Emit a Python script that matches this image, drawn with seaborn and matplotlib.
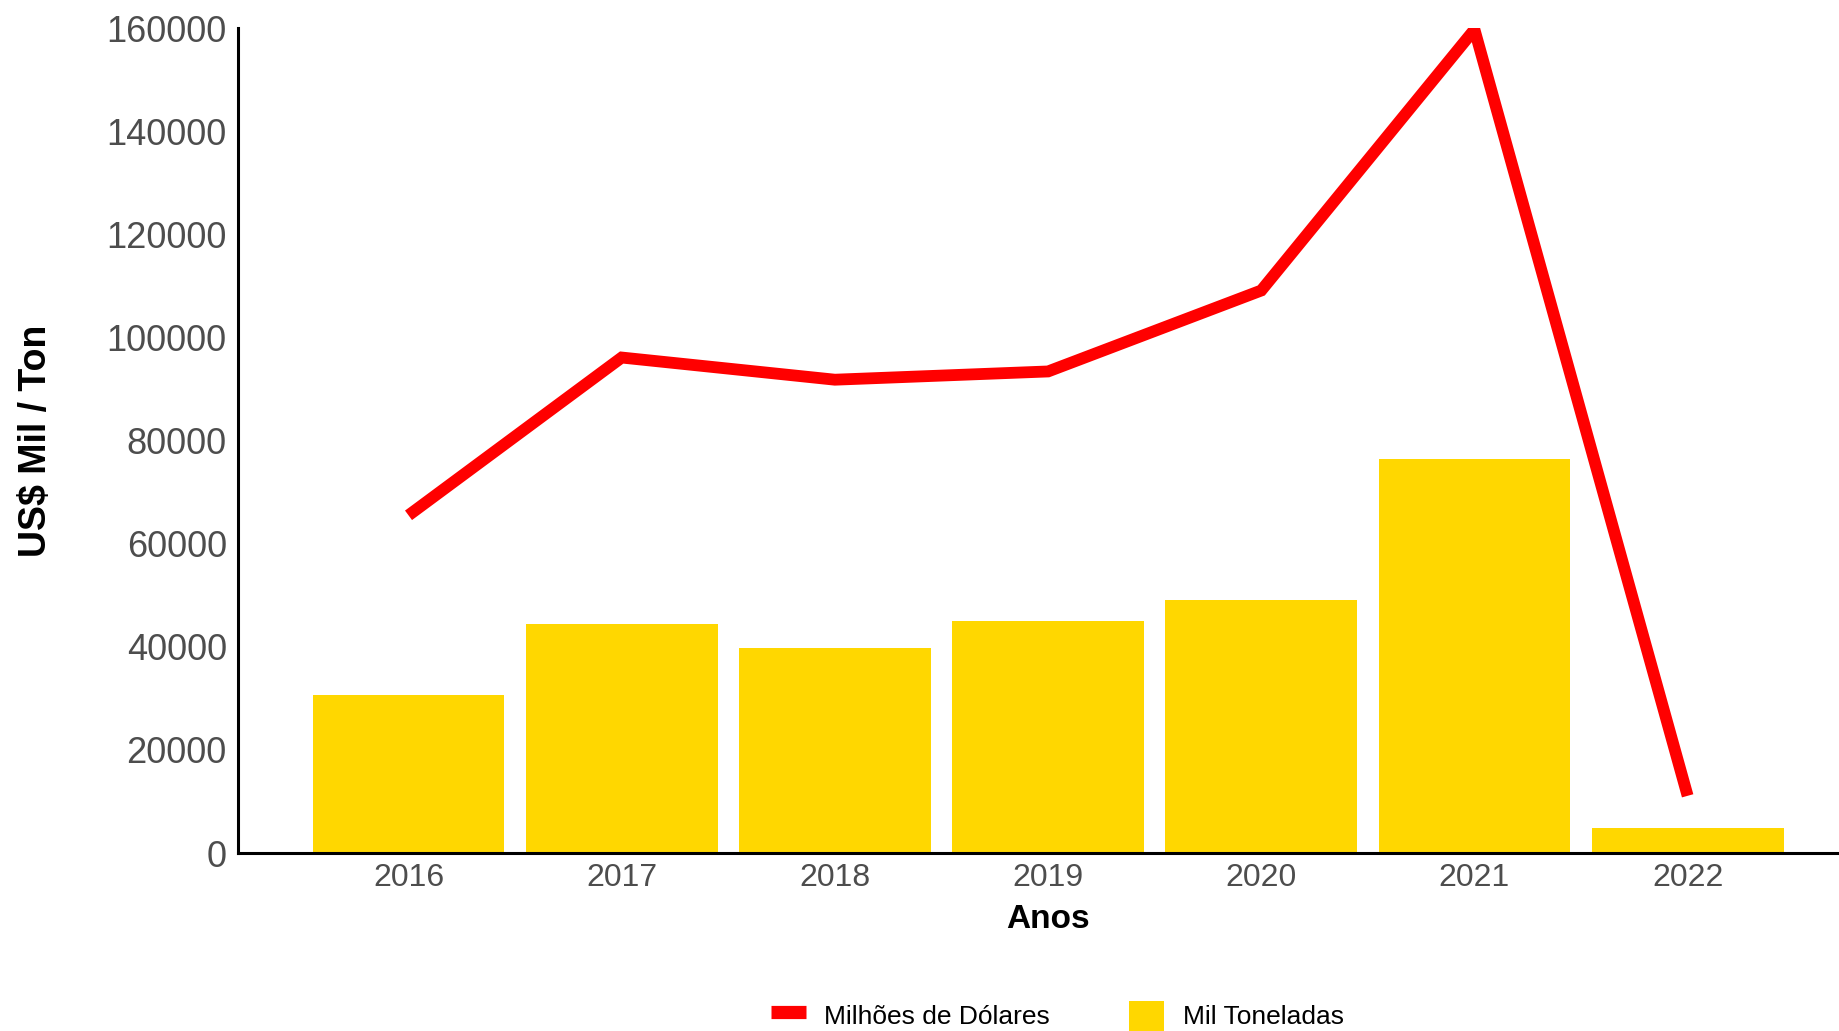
import numpy as np
import pandas as pd
import matplotlib
matplotlib.use("Agg")
import matplotlib.pyplot as plt
import seaborn as sns
from matplotlib.lines import Line2D
from matplotlib.patches import Patch

# Values
anos = ["2016", "2017", "2018", "2019", "2020", "2021", "2022"]
milhoes_dolares = [65500, 96100, 91800, 93400, 109100, 159700, 11100]
mil_toneladas = [30700, 44500, 39800, 45000, 49100, 76400, 4800]
y_ticks = [0, 20000, 40000, 60000, 80000, 100000, 120000, 140000, 160000]

df = pd.DataFrame({"ano": anos, "dolares": milhoes_dolares, "toneladas": mil_toneladas})

sns.set_style("white")
plt.rcParams["font.family"] = ["Liberation Sans", "DejaVu Sans"]

fig = plt.figure(figsize=(18.39, 10.31), dpi=100)
ax = fig.add_axes([0.1294, 0.1726, 0.8706, 0.8002])

sns.barplot(data=df, x="ano", y="toneladas", color="#FFD700", width=0.9,
            saturation=1, ax=ax, zorder=2)
for bar in ax.patches:
    bar.set_edgecolor("none")

sns.lineplot(x=np.arange(len(anos)), y=df["dolares"], color="#FF0000",
             linewidth=8.5, ax=ax, zorder=3,
             solid_capstyle="butt", solid_joinstyle="miter")

ax.set_xlim(-0.8, len(anos) - 1 + 0.71)
ax.set_ylim(0, 160000)
ax.set_yticks(y_ticks)
ax.set_yticklabels([str(v) for v in y_ticks])
ax.set_xticks(range(len(anos)))
ax.set_xticklabels(anos)

for side in ["top", "right"]:
    ax.spines[side].set_visible(False)
for side in ["left", "bottom"]:
    ax.spines[side].set_color("black")
    ax.spines[side].set_linewidth(2.2)

ax.tick_params(axis="both", which="major", length=6, width=2, color="#333333",
               labelcolor="#4D4D4D", direction="out")
ax.tick_params(axis="y", labelsize=26, pad=2)
ax.tick_params(axis="x", labelsize=23, pad=1)

ax.set_xlabel("Anos", fontsize=24, fontweight="bold", color="black")
ax.xaxis.set_label_coords(0.506, -0.062)
ax.set_ylabel("US$ Mil / Ton", fontsize=27, fontweight="bold", color="black")
ax.yaxis.set_label_coords(-0.115, 0.5)

handles = [
    Line2D([0], [0], color="#FF0000", linewidth=9.5, solid_capstyle="butt"),
    Patch(facecolor="#FFD700", edgecolor="none"),
]
fig.legend(handles, ["Milhões de Dólares", "Mil Toneladas"], loc="center",
           bbox_to_anchor=(0.575, 0.015), ncol=2, frameon=False, fontsize=19,
           handlelength=1.33, handleheight=1.37, handletextpad=0.71,
           columnspacing=3.0, labelcolor="black")

fig.savefig("out.png", dpi=100)
